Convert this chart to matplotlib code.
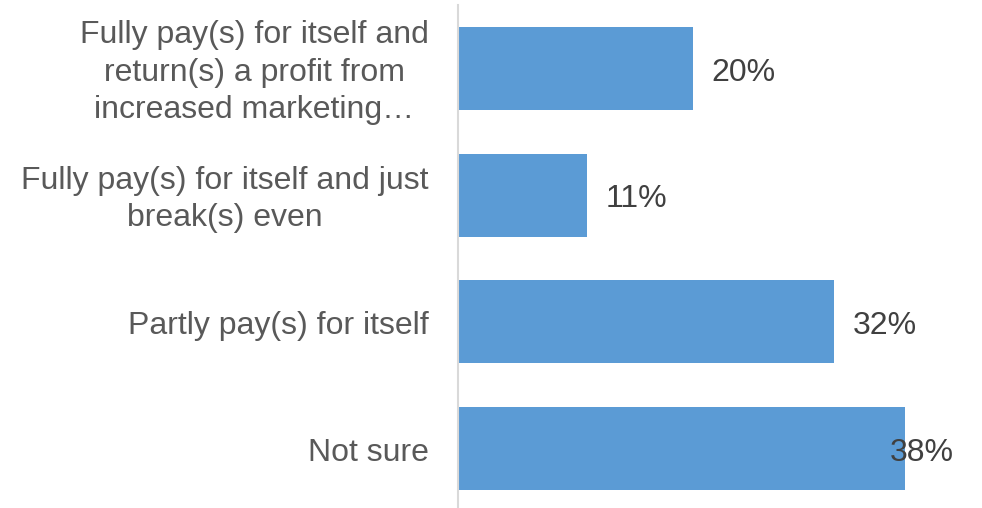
import numpy as np
import matplotlib.pyplot as plt

plt.rcParams['font.family'] = ['Liberation Sans', 'DejaVu Sans']

# categorias y porcentajes
categorias = ['Fully pay(s) for itself and\nreturn(s) a profit from\nincreased marketing…',
              'Fully pay(s) for itself and just\nbreak(s) even',
              'Partly pay(s) for itself',
              'Not sure']
valores = [20, 11, 32, 38]

azul = '#5b9bd5'
xmax = 42.5

fig = plt.figure(figsize=(9.82, 5.08), dpi=100)
ax = fig.add_axes([458/982, -4/508, 500/982, 507/508])

y = np.arange(len(categorias))
ax.barh(y, valores, height=0.655, color=azul)
ax.set_ylim(len(categorias) - 0.5, -0.5)
ax.set_xlim(0, xmax)

# etiquetas de las categorias (a la izquierda del eje)
for yi, cat in zip(y, categorias):
    ax.annotate(cat, xy=(0, yi), xytext=(-21, -3), textcoords='offset points',
                ha='right', va='center', multialignment='center',
                fontsize=23, color='#595959', linespacing=1.32)

# etiquetas de valor; si no cabe se recorre hacia adentro
for yi, v in zip(y, valores):
    if v > 36:
        ax.annotate(f'{v}%', xy=(xmax, yi), xytext=(-3, -3), textcoords='offset points',
                    ha='right', va='center', fontsize=23, color='#404040')
    else:
        ax.annotate(f'{v}%', xy=(v, yi), xytext=(13, -3), textcoords='offset points',
                    ha='left', va='center', fontsize=23, color='#404040')

for s in ['top', 'right', 'bottom']:
    ax.spines[s].set_visible(False)
ax.spines['left'].set_color('#d9d9d9')
ax.spines['left'].set_linewidth(1.5)
ax.set_xticks([])
ax.set_yticks([])

fig.savefig('out.png', dpi=100)
